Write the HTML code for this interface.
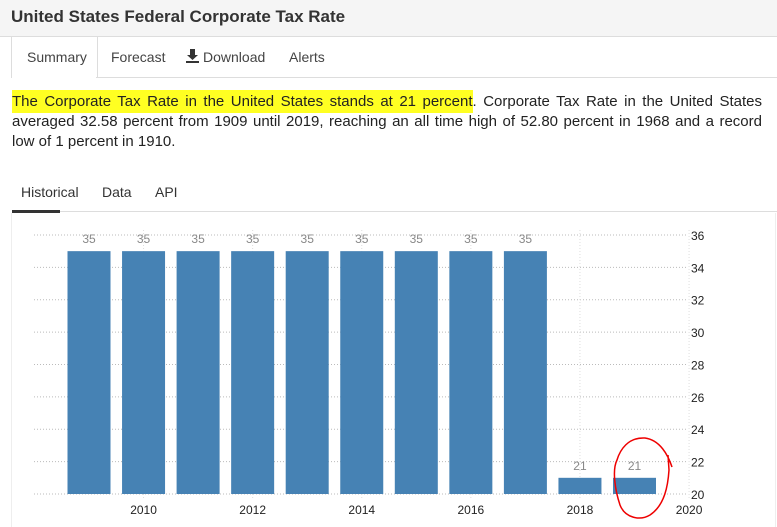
<!DOCTYPE html>
<html><head><meta charset="utf-8"><style>
body{margin:0;width:777px;height:527px;overflow:hidden;background:#fff;font-family:"Liberation Sans",Arial,sans-serif;position:relative}
.hdr{position:absolute;left:0;top:0;width:777px;height:36px;background:#f5f5f5;border-bottom:1px solid #ddd}
.hdr h1{margin:0;position:absolute;left:11px;top:7px;font-size:17px;font-weight:bold;color:#333}
.tab{position:absolute;top:49px;font-size:14px;color:#444}
.para{position:absolute;left:12px;top:92px;width:750px;font-size:15px;line-height:20px;color:#222;text-align:justify}
.hl{background:#ffff22;box-shadow:0 -3px 0 #ffff22,0 3px 0 #ffff22}
.t2{position:absolute;top:184px;font-size:14px;color:#333}
</style></head><body>
<div class="hdr"><h1>United States Federal Corporate Tax Rate</h1></div>
<div style="position:absolute;left:11px;top:37px;width:85px;height:41px;border-left:1px solid #ddd;border-right:1px solid #ddd;background:#fff"></div>
<div style="position:absolute;left:96px;top:77px;width:681px;border-top:1px solid #ddd"></div>
<span class="tab" style="left:27px">Summary</span>
<span class="tab" style="left:111px">Forecast</span>
<svg width="13" height="14" style="position:absolute;left:186px;top:49px"><path d="M4,0h5v6h3l-5.5,5L1,6h3z M0,12h13v2H0z" fill="#333"/></svg>
<span class="tab" style="left:203px">Download</span>
<span class="tab" style="left:289px">Alerts</span>
<div class="para"><span class="hl">The Corporate Tax Rate in the United States stands at 21 percent</span>. Corporate Tax Rate in the United States averaged 32.58 percent from 1909 until 2019, reaching an all time high of 52.80 percent in 1968 and a record low of 1 percent in 1910.</div>
<span class="t2" style="left:21px">Historical</span>
<span class="t2" style="left:102px">Data</span>
<span class="t2" style="left:155px">API</span>
<div style="position:absolute;left:12px;top:211px;width:765px;border-top:1px solid #ddd"></div>
<div style="position:absolute;left:12px;top:210px;width:48px;border-top:3px solid #333"></div>
<div style="position:absolute;left:11px;top:213px;width:763px;height:314px;border-left:1px solid #eee;border-right:1px solid #eee"></div>
<svg id="chart" width="777" height="527" style="position:absolute;left:0;top:0"></svg>
<script>
const years=[2009,2010,2011,2012,2013,2014,2015,2016,2017,2018,2019];
const values=[35,35,35,35,35,35,35,35,35,21,21];
const yTicks=[20,22,24,26,28,30,32,34,36];
const xTicks=[2010,2012,2014,2016,2018,2020];
const NS="http://www.w3.org/2000/svg";
const svg=document.getElementById('chart');
const x=y=>89+(y-2009)*54.55;
const yS=v=>494-(v-20)*16.19;
function el(t,a){const e=document.createElementNS(NS,t);for(const k in a)e.setAttribute(k,a[k]);svg.appendChild(e);return e;}
yTicks.forEach(v=>{
 const l=el('line',{x1:34,x2:688,y1:yS(v),y2:yS(v),stroke:'#bbb','stroke-dasharray':'1,2'});
 
 
 const t=el('text',{x:691,y:yS(v)+5,'font-size':12,fill:'#222'});t.textContent=v;
 
 
});
xTicks.forEach(v=>{
 const l=el('line',{x1:x(v),x2:x(v),y1:230,y2:500,stroke:'#ddd','stroke-dasharray':'1,2'});
 
 
 const t=el('text',{x:x(v),y:514,'font-size':12,fill:'#222','text-anchor':'middle'});t.textContent=v;
 
 
});
years.forEach((yr,i)=>{
 const b=el('rect',{x:x(yr)-21.5,y:yS(values[i]),width:43,height:yS(20)-yS(values[i]),fill:'#4682b4'});
 
 
 const t=el('text',{x:x(yr),y:yS(values[i])-8,'font-size':12,fill:'#888','text-anchor':'middle'});t.textContent=values[i];
 
 
});
const c=el('path',{d:'M672,467 C668,455 660,440 645,438 C628,437 620,450 617,460 C612,470 615,490 620,505 C625,518 640,521 650,515 C665,505 668,485 669,470 L668,455',fill:'none',stroke:'#e00',"stroke-width":1.5});


</script>
</body></html>
